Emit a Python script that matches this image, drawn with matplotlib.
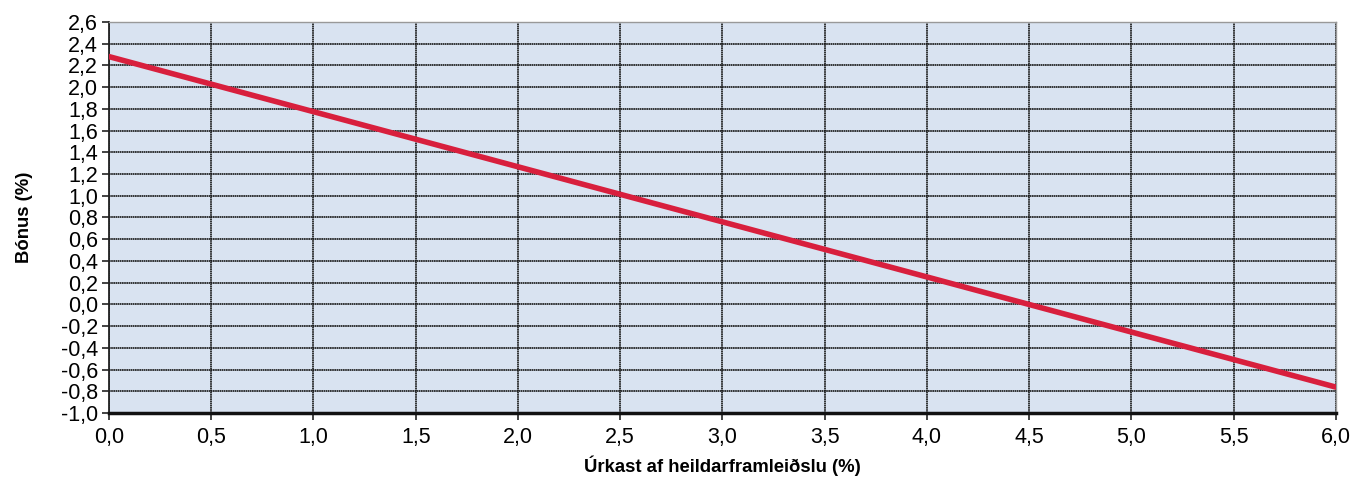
import matplotlib.pyplot as plt
from matplotlib.ticker import FuncFormatter

x_vals = [0.0, 1.5, 3.0, 4.5, 6.0]
bonus = [2.28, 1.52, 0.76, 0.0, -0.76]
x_ticks = [0.0, 0.5, 1.0, 1.5, 2.0, 2.5, 3.0, 3.5, 4.0, 4.5, 5.0, 5.5, 6.0]
y_ticks = [-1.0 + 0.2 * i for i in range(19)]

plt.rcParams['font.family'] = ['Liberation Sans', 'DejaVu Sans']

fig = plt.figure(figsize=(13.63, 4.96), dpi=100)
ax = fig.add_axes([0.080, 0.167, 0.900, 0.789])
ax.set_facecolor('#d9e3f1')

ax.plot(x_vals, bonus, color='#d81f3d', lw=4, solid_capstyle='round', zorder=3)

ax.set_xlim(0, 6)
ax.set_ylim(-1.0, 2.6)
ax.set_xticks(x_ticks)
ax.set_yticks(y_ticks)
comma = FuncFormatter(lambda v, p: f"{v:.1f}".replace('.', ',').replace('-0,0', '0,0'))
ax.xaxis.set_major_formatter(comma)
ax.yaxis.set_major_formatter(comma)
ax.grid(True, color='#151515', lw=1.2, linestyle=(0, (1, 0.3)))
ax.set_axisbelow(True)

ax.tick_params(axis='both', labelsize=15.5, color='#222222', length=5, width=1.2)
ax.tick_params(axis='x', pad=5)
ax.tick_params(axis='y', pad=3)

for side in ['top', 'right']:
    ax.spines[side].set_color('#999999')
    ax.spines[side].set_linewidth(1.0)
ax.spines['left'].set_color('#222222')
ax.spines['left'].set_linewidth(1.3)
ax.spines['bottom'].set_color('#111111')
ax.spines['bottom'].set_linewidth(2.5)

ax.set_xlabel('Úrkast af heildarframleiðslu (%)', fontsize=13.3, fontweight='bold', labelpad=5)
ax.set_ylabel('Bónus (%)', fontsize=13.3, fontweight='bold', labelpad=20)

fig.savefig('out.png', dpi=100)
